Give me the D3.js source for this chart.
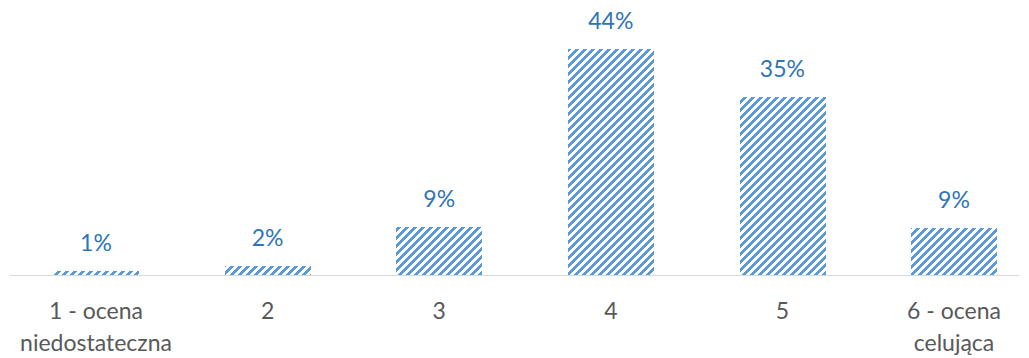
<!DOCTYPE html>
<meta charset="utf-8">
<html>
<head>
<style>
  body { margin: 0; background: #fff; }
  text { font-family: Lato, "Open Sans", sans-serif; }
</style>
<script src="https://cdn.jsdelivr.net/npm/d3@7"></script>
</head>
<body>
<div id="chart"></div>
<script>
// chart data (bar heights, labels as printed)
var categories = ["1 - ocena\nniedostateczna", "2", "3", "4", "5", "6 - ocena\ncelująca"];
var values = [0.8, 1.8, 9.4, 44.4, 35, 9.2];
var valueLabels = ["1%", "2%", "9%", "44%", "35%", "9%"];

var width = 1029, height = 358;
var baseline = 275;

var svg = d3.select("#chart").append("svg")
    .attr("width", width)
    .attr("height", height);

// wide upward diagonal fill, 8px tile
var pat = svg.append("defs").append("pattern")
    .attr("id", "diag")
    .attr("patternUnits", "userSpaceOnUse")
    .attr("width", 8).attr("height", 8);
pat.append("rect").attr("width", 8).attr("height", 8).attr("fill", "#fff");
var cells = [];
for (var yy = 0; yy < 8; yy++) {
  for (var xx = 0; xx < 8; xx++) {
    if ((xx + yy) % 8 < 4) cells.push([xx, yy]);
  }
}
pat.selectAll("rect.c").data(cells).enter().append("rect")
    .attr("class", "c")
    .attr("x", function(d) { return d[0]; })
    .attr("y", function(d) { return d[1]; })
    .attr("width", 1).attr("height", 1)
    .attr("fill", "#5b9bd5");

var x = d3.scaleBand()
    .domain(categories)
    .range([10.2, 1039.8])
    .paddingInner(0.5)
    .paddingOuter(0.25);

var y = d3.scaleLinear()
    .domain([0, 44.4])
    .range([baseline, 49]);

// bars
svg.selectAll("rect.bar")
  .data(values)
  .enter().append("rect")
    .attr("class", "bar")
    .attr("x", function(d, i) { return Math.round(x(categories[i])); })
    .attr("y", function(d) { return Math.round(y(d)); })
    .attr("width", Math.round(x.bandwidth()))
    .attr("height", function(d) { return baseline - Math.round(y(d)); })
    .attr("fill", "url(#diag)")
    .attr("shape-rendering", "crispEdges");

// axis line
svg.append("line")
    .attr("x1", 10).attr("x2", 1019)
    .attr("y1", baseline + 0.5).attr("y2", baseline + 0.5)
    .attr("stroke", "#d9d9d9")
    .attr("stroke-width", 1);

// value labels
svg.selectAll("text.val")
  .data(values)
  .enter().append("text")
    .attr("class", "val")
    .attr("x", function(d, i) { return x(categories[i]) + x.bandwidth() / 2; })
    .attr("y", function(d) { return y(d) - 20; })
    .attr("text-anchor", "middle")
    .attr("font-size", "23px")
    .attr("fill", "#2e75b6")
    .text(function(d, i) { return valueLabels[i]; });

// category labels
var cat = svg.selectAll("text.cat")
  .data(categories)
  .enter().append("text")
    .attr("class", "cat")
    .attr("x", function(d) { return x(d) + x.bandwidth() / 2; })
    .attr("y", 318.5)
    .attr("text-anchor", "middle")
    .attr("font-size", "23px")
    .attr("fill", "#595959");
cat.selectAll("tspan")
  .data(function(d) { return d.split("\n"); })
  .enter().append("tspan")
    .attr("x", function() { return d3.select(this.parentNode).attr("x"); })
    .attr("dy", function(d, i) { return i === 0 ? 0 : 32; })
    .text(function(d) { return d; });
</script>
</body>
</html>
